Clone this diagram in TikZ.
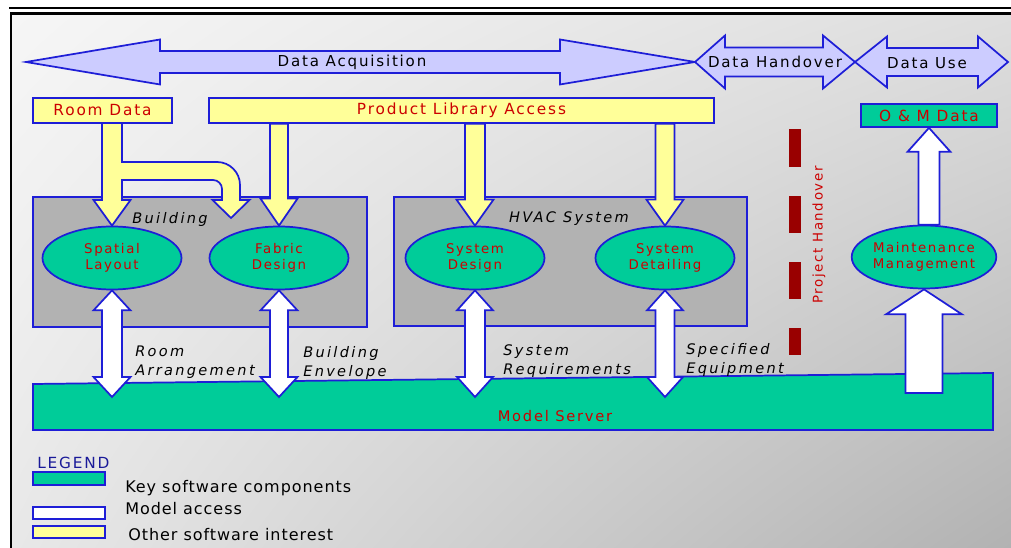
\documentclass[tikz,border=0pt]{standalone}
\usepackage{fontspec}
\usetikzlibrary{calc,shapes.geometric,shadings}
\setmainfont{DejaVu Sans}
\newfontfamily\dfont[LetterSpace=12]{DejaVu Sans}
\newfontfamily\difont[LetterSpace=16]{DejaVu Sans}
\newfontfamily\lfont[LetterSpace=6]{DejaVu Sans}
\definecolor{lav}{RGB}{204,204,255}
\definecolor{edge}{RGB}{30,30,215}
\definecolor{yel}{RGB}{255,255,153}
\definecolor{grn}{RGB}{0,204,153}
\definecolor{gbox}{RGB}{178,178,178}
\definecolor{tred}{RGB}{204,0,0}
\definecolor{dred}{RGB}{153,0,0}
\definecolor{legblue}{RGB}{26,26,153}
\definecolor{bgtl}{RGB}{246,246,246}
\definecolor{bgtr}{RGB}{222,222,222}
\definecolor{bgbl}{RGB}{232,232,232}
\definecolor{bgbr}{RGB}{178,178,178}
\newcommand\nf{\dfont\fontsize{10}{12}\selectfont}
\newcommand\boxf{\dfont\fontsize{11.5}{12}\selectfont}
\newcommand\tf{\dfont\fontsize{11.3}{12}\selectfont}
\newcommand\msf{\dfont\fontsize{11}{12}\selectfont}
\newcommand\itf{\difont\itshape\fontsize{10.9}{14.25}\selectfont}
\newcommand\lgf{\lfont\fontsize{12}{12}\selectfont}
\newcommand\lghf{\dfont\fontsize{11.5}{12}\selectfont}
% vertical block arrows
\newcommand\blockdown[6]{\draw[#1] let \p1=(#2),\p2=(#3) in
 (\x2-#4*0.75pt,\y1) -- (\x2-#4*0.75pt,\y2+#6*0.75pt) -- (\x2-#5*0.75pt,\y2+#6*0.75pt) -- (\x2,\y2)
 -- (\x2+#5*0.75pt,\y2+#6*0.75pt) -- (\x2+#4*0.75pt,\y2+#6*0.75pt) -- (\x2+#4*0.75pt,\y1) -- cycle;}
\newcommand\blockup[6]{\draw[#1] let \p1=(#2),\p2=(#3) in
 (\x2-#4*0.75pt,\y1) -- (\x2-#4*0.75pt,\y2-#6*0.75pt) -- (\x2-#5*0.75pt,\y2-#6*0.75pt) -- (\x2,\y2)
 -- (\x2+#5*0.75pt,\y2-#6*0.75pt) -- (\x2+#4*0.75pt,\y2-#6*0.75pt) -- (\x2+#4*0.75pt,\y1) -- cycle;}
\newcommand\blockdouble[6]{\draw[#1] let \p1=(#2),\p2=(#3) in
 (\x1,\y1) -- (\x1+#5*0.75pt,\y1-#6*0.75pt) -- (\x1+#4*0.75pt,\y1-#6*0.75pt) -- (\x1+#4*0.75pt,\y2+#6*0.75pt)
 -- (\x1+#5*0.75pt,\y2+#6*0.75pt) -- (\x1,\y2) -- (\x1-#5*0.75pt,\y2+#6*0.75pt) -- (\x1-#4*0.75pt,\y2+#6*0.75pt)
 -- (\x1-#4*0.75pt,\y1-#6*0.75pt) -- (\x1-#5*0.75pt,\y1-#6*0.75pt) -- cycle;}
\newcommand\blockh[7]{\draw[#1] let \p1=(#2),\p2=(#3) in
 (\x1,\y1) -- (\x1+#6*0.75pt,\y1+#5*0.75pt) -- (\x1+#6*0.75pt,\y1+#4*0.75pt) -- (\x2-#7*0.75pt,\y1+#4*0.75pt)
 -- (\x2-#7*0.75pt,\y1+#5*0.75pt) -- (\x2,\y1) -- (\x2-#7*0.75pt,\y1-#5*0.75pt) -- (\x2-#7*0.75pt,\y1-#4*0.75pt)
 -- (\x1+#6*0.75pt,\y1-#4*0.75pt) -- (\x1+#6*0.75pt,\y1-#5*0.75pt) -- cycle;}
\tikzset{
 bl/.style={draw=edge, line width=1.3pt, line join=miter},
 lavarrow/.style={bl, fill=lav},
 yarrow/.style={bl, fill=yel},
 warrow/.style={bl, fill=white},
 ybox/.style={bl, fill=yel, inner sep=0pt, minimum height=18.75pt, font=\boxf, text=tred},
 gbxs/.style={bl, fill=gbox, inner sep=0pt},
 ell/.style={ellipse, bl, fill=grn, inner sep=0pt, minimum width=104.25pt, minimum height=47.25pt, font=\nf, text=tred, align=center},
 itlab/.style={font=\itf, align=left, anchor=west, inner sep=0pt},
 hdash/.style={fill=dred, draw=none},
 legbox/.style={bl, inner sep=0pt, minimum width=54pt, minimum height=9.5pt},
 legtxt/.style={font=\lgf, anchor=west, inner sep=0pt}
}
\begin{document}
\begin{tikzpicture}[x=0.75pt,y=-0.75pt]
\useasboundingbox (0,0) rectangle (1011,548);
\fill[white] (0,0) rectangle (1011,548);
\shade[upper left=bgtl, upper right=bgtr, lower left=bgbl, lower right=bgbr] (11,14) rectangle (1011,548);
% frame
\fill[black] (9,7) rectangle (1011,9.5);
\fill[black] (9.5,12.5) rectangle (1011,15);
\fill[black] (9.5,12.5) rectangle (12,548);

% top arrows
\coordinate (da1) at (26,62);
\coordinate (da2) at (695,62);
\coordinate (dh2) at (855,62);
\coordinate (du2) at (1008,62);
\blockh{lavarrow}{da1}{da2}{11}{22.5}{134}{135}
\blockh{lavarrow}{da2}{dh2}{14.5}{26.5}{30}{32}
\blockh{lavarrow}{dh2}{du2}{14}{25.5}{32}{30}
\node[font=\tf] (tda) at (352,62) {Data Acquisition};
\node[font=\tf] (tdh) at (775,62) {Data Handover};
\node[font=\tf] (tdu) at (927,63) {Data Use};

% gray boxes
\node[gbxs, minimum width=250.5pt, minimum height=97.5pt] (bld) at (200,262) {};
\node[gbxs, minimum width=264.75pt, minimum height=96.75pt] (hvac) at (570.5,261.5) {};
\node[font=\itf, inner sep=0pt] (bldl) at (170,219) {Building};
\node[font=\itf, inner sep=0pt] (hvacl) at (569,219) {HVAC System};

% model server bar
\draw[bl, fill=grn] (33,384) -- (993,373) -- (993,430) -- (33,430) -- cycle;
\node[font=\msf, text=tred] (ms) at (555,416) {Model Server};
\coordinate (msl) at (0,397);
\coordinate (msb) at (0,393);

% top boxes
\node[ybox, minimum width=104.25pt] (rd) at (102.5,110.5) {Room Data};
\node[ybox, minimum width=378.75pt] (pla) at (461.5,110.5) {Product Library Access};
\node[bl, fill=grn, inner sep=0pt, minimum width=102pt, minimum height=17.25pt, font=\boxf, text=tred] (om) at (929,115.5) {O \& M Data};

% ellipses
\node[ell] (sl) at (112,258) {Spatial\\Layout};
\node[ell] (fd) at (279,258) {Fabric\\Design};
\node[ell] (sd) at (475,258) {System\\Design};
\node[ell] (sdt) at (665,258) {System\\Detailing};
\node[ell, minimum width=101.25pt] (mm) at (924,257) {Maintenance\\Management};

% yellow arrows
\draw[yarrow] (102,123) -- (102,200) -- (93.5,200) -- (sl.north) -- (130.5,200) -- (122,200) -- (122,180)
  -- (213,180) arc[start angle=-90, end angle=0, radius=9] -- (222,200) -- (212.5,200) -- (231,218)
  -- (249.5,200) -- (240,200) -- (240,185) arc[start angle=0, end angle=-90, radius=23] -- (122,162) -- (122,123) -- cycle;
\blockdown{yarrow}{pla.south}{fd.north}{9}{18.5}{27}
\blockdown{yarrow}{pla.south}{sd.north}{10}{18.5}{26}
\blockdown{yarrow}{pla.south}{sdt.north}{9.5}{18.5}{26}

% white double arrows
\blockdouble{warrow}{sl.south}{sl.south |- msl}{10}{18.5}{20}
\blockdouble{warrow}{fd.south}{fd.south |- msl}{9}{18.5}{20}
\blockdouble{warrow}{sd.south}{sd.south |- msl}{10}{18}{20}
\blockdouble{warrow}{sdt.south}{sdt.south |- msl}{9.5}{18}{20}
\blockup{warrow}{mm.north}{om.south}{10.5}{21.5}{24}
\blockup{warrow}{mm.south |- msb}{mm.south}{18.5}{38}{25}

% labels
\node[itlab] (l1) at (135,362.5) {Room\\Arrangement};
\node[itlab] (l2) at (303,362.5) {Building\\Envelope};
\node[itlab] (l3) at (503,361) {System\\Requirements};
\node[itlab] (l4) at (686,359.5) {Specified\\Equipment};

% project handover
\fill[hdash] (789,129) rectangle (801,167);
\fill[hdash] (789,196) rectangle (801,233);
\fill[hdash] (789,262) rectangle (801,299);
\fill[hdash] (789,328) rectangle (801,355);
\node[rotate=90, font=\nf, text=tred] (ph) at (819,235) {Project Handover};

% legend
\node[font=\lghf, text=legblue, anchor=west, inner sep=0pt] (lg) at (37,462.5) {LEGEND};
\node[legbox, fill=grn] (lb1) at (69,478.5) {};
\node[legbox, fill=white] (lb2) at (69,513) {};
\node[legbox, fill=yel] (lb3) at (69,532) {};
\node[legtxt] (lt1) at (125,488) {Key software components};
\node[legtxt] (lt2) at (125,509) {Model access};
\node[legtxt] (lt3) at (128,535) {Other software interest};
\end{tikzpicture}
\end{document}
